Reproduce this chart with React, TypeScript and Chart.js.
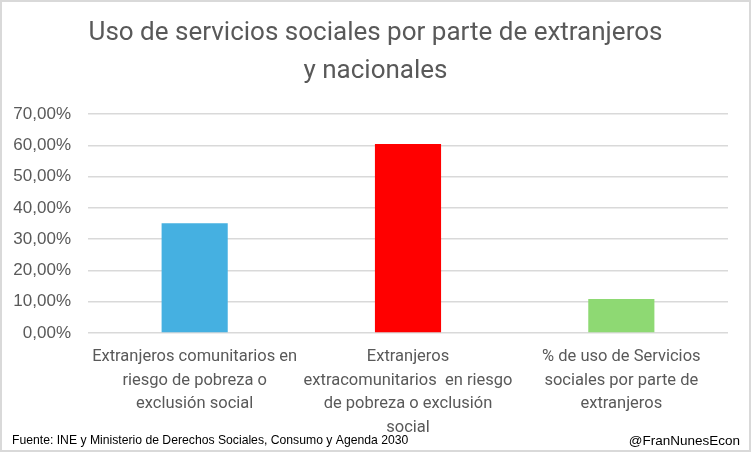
import React, { useEffect, useRef } from "react";
import { Chart, registerables } from "chart.js";

Chart.register(...registerables);

const titleLines = ["Uso de servicios sociales por parte de extranjeros", "y nacionales"];
const categories: string[][] = [
  ["Extranjeros comunitarios en", "riesgo de pobreza o", "exclusión social"],
  ["Extranjeros", "extracomunitarios  en riesgo", "de pobreza o exclusión", "social"],
  ["% de uso de Servicios", "sociales por parte de", "extranjeros"],
];
const values = [35.1, 60.4, 10.9];
const barColors = ["#45B0E1", "#FF0000", "#8ED973"];
const yTicksMax = 70;
const yStep = 10;
const sourceText = "Fuente: INE y Ministerio de Derechos Sociales, Consumo y Agenda 2030";
const handleText = "@FranNunesEcon";

const W = 751;
const H = 452;

const decorPlugin = {
  id: "decor",
  beforeDraw(chart: any) {
    const ctx = chart.ctx;
    ctx.save();
    ctx.fillStyle = "#ffffff";
    ctx.fillRect(0, 0, chart.width, chart.height);
    ctx.restore();
  },
  afterDraw(chart: any) {
    const ctx = chart.ctx;
    ctx.save();
    ctx.fillStyle = "#000000";
    ctx.font = "12.2px 'Liberation Sans', Arial, sans-serif";
    ctx.textBaseline = "middle";
    ctx.textAlign = "left";
    ctx.fillText(sourceText, 12, 441);
    ctx.textAlign = "right";
    ctx.font = "13.5px 'Liberation Sans', Arial, sans-serif";
    ctx.fillText(handleText, 740, 441);
    ctx.strokeStyle = "#d9d9d9";
    ctx.lineWidth = 2;
    ctx.strokeRect(1, 1, chart.width - 2, chart.height - 2);
    ctx.restore();
  },
};

export default function App() {
  const ref = useRef<HTMLCanvasElement | null>(null);
  useEffect(() => {
    document.body.style.margin = "0";
    if (!ref.current) return;
    const chart = new Chart(ref.current, {
      type: "bar",
      data: {
        labels: categories,
        datasets: [
          {
            data: values,
            backgroundColor: barColors,
            borderWidth: 0,
            barPercentage: 0.31,
            categoryPercentage: 1,
          },
        ],
      },
      options: {
        animation: false,
        responsive: false,
        maintainAspectRatio: false,
        layout: { padding: { left: 0, right: 0, top: 0, bottom: 0 } },
        plugins: {
          legend: { display: false },
          tooltip: { enabled: false },
          title: {
            display: true,
            text: titleLines,
            color: "#595959",
            font: { family: "Roboto, sans-serif", size: 26, weight: "normal", lineHeight: 38 / 26 },
            padding: { top: 14, bottom: 24 },
          },
        },
        scales: {
          x: {
            grid: { display: false, drawTicks: false },
            border: { display: false },
            ticks: {
              color: "#595959",
              font: { family: "Roboto, sans-serif", size: 16.5, lineHeight: 1.43 },
              padding: 12,
              maxRotation: 0,
              autoSkip: false,
            },
            afterFit(scale: any) {
              scale.height = H - 333;
            },
          },
          y: {
            min: 0,
            max: yTicksMax,
            grid: { color: "#d9d9d9", lineWidth: 1.5, drawTicks: false },
            border: { display: false },
            ticks: {
              stepSize: yStep,
              color: "#595959",
              font: { family: "'Liberation Sans', Arial, sans-serif", size: 17 },
              padding: 17,
              callback: (v: any) => Number(v).toFixed(2).replace(".", ",") + "%",
            },
            afterFit(scale: any) {
              scale.width = 88;
            },
          },
          yRight: {
            position: "right",
            display: true,
            grid: { display: false, drawTicks: false },
            border: { display: false },
            ticks: { display: false },
            afterFit(scale: any) {
              scale.width = 23;
            },
          },
        },
      },
      plugins: [decorPlugin],
    });
    return () => chart.destroy();
  }, []);
  return (
    <div style={{ position: "fixed", left: 0, top: 0, width: W, height: H }}>
      <canvas ref={ref} width={W} height={H} style={{ width: W, height: H }} />
    </div>
  );
}
